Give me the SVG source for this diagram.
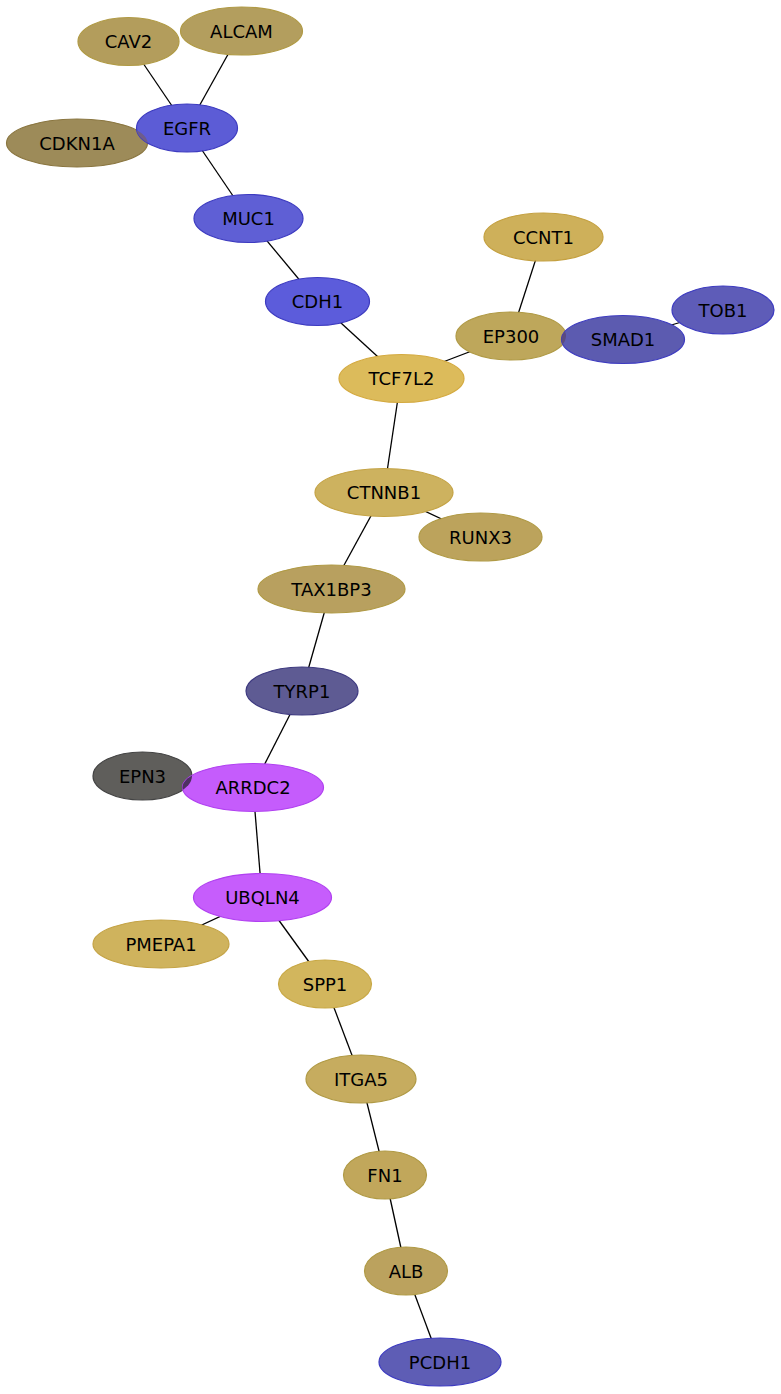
<svg xmlns="http://www.w3.org/2000/svg" width="781" height="1394" viewBox="0 0 781 1394">
<style>
.e{stroke:#000;stroke-width:1.3;fill:none}
.n ellipse{stroke-width:1.2}
.n text{font-family:"DejaVu Sans","Liberation Sans",sans-serif;font-size:18px;text-anchor:middle;fill:#000}
.g ellipse{stroke:#b09a45}
.b ellipse{stroke:#3d3bc0}
.ov{stroke:none !important}
</style>
<defs>
<clipPath id="cCDKN1A"><ellipse cx="77" cy="143" rx="70.5" ry="24"/></clipPath>
<clipPath id="cEP300"><ellipse cx="511" cy="336" rx="55" ry="24"/></clipPath>
<clipPath id="cEPN3"><ellipse cx="142.5" cy="776" rx="49.5" ry="24"/></clipPath>
</defs>
<rect width="781" height="1394" fill="#fff"/>
<g id="connectors">
<line class="e" x1="128" y1="41" x2="187" y2="128"/>
<line class="e" x1="241" y1="31" x2="187" y2="128"/>
<line class="e" x1="187" y1="128" x2="248" y2="218"/>
<line class="e" x1="248" y1="218" x2="317" y2="301"/>
<line class="e" x1="317" y1="301" x2="401" y2="378"/>
<line class="e" x1="401" y1="378" x2="511" y2="336"/>
<line class="e" x1="511" y1="336" x2="543" y2="237"/>
<line class="e" x1="623" y1="339" x2="723" y2="310"/>
<line class="e" x1="401" y1="378" x2="384" y2="492"/>
<line class="e" x1="384" y1="492" x2="480" y2="537"/>
<line class="e" x1="384" y1="492" x2="331" y2="589"/>
<line class="e" x1="331" y1="589" x2="302" y2="691"/>
<line class="e" x1="302" y1="691" x2="253" y2="787"/>
<line class="e" x1="253" y1="787" x2="262" y2="897"/>
<line class="e" x1="262" y1="897" x2="161" y2="944"/>
<line class="e" x1="262" y1="897" x2="325" y2="984"/>
<line class="e" x1="325" y1="984" x2="361" y2="1079"/>
<line class="e" x1="361" y1="1079" x2="385" y2="1175"/>
<line class="e" x1="385" y1="1175" x2="406" y2="1271"/>
<line class="e" x1="406" y1="1271" x2="440" y2="1362"/>
</g>
<g id="CAV2" class="n g"><ellipse cx="128.5" cy="41.5" rx="50.5" ry="24" fill="#b39d5c"/><text x="128.5" y="48">CAV2</text></g>
<g id="ALCAM" class="n g"><ellipse cx="241.5" cy="31" rx="61" ry="24" fill="#b39e5e"/><text x="241.5" y="37.5">ALCAM</text></g>
<g id="CDKN1A" class="n g"><ellipse cx="77" cy="143" rx="70.5" ry="24" fill="#9d8b59" style="stroke:#8a7640"/><text x="77" y="149.5">CDKN1A</text></g>
<g id="EGFR" class="n b"><ellipse cx="187" cy="128" rx="50.5" ry="24" fill="#5c5cd6"/><ellipse class="ov" cx="187" cy="128" rx="50.5" ry="24" fill="#6e5c8a" clip-path="url(#cCDKN1A)"/><text x="187" y="134.5">EGFR</text></g>
<g id="MUC1" class="n b"><ellipse cx="248.5" cy="218.5" rx="54.5" ry="24" fill="#5f5fd5"/><text x="248.5" y="225">MUC1</text></g>
<g id="CDH1" class="n b"><ellipse cx="317.5" cy="301.5" rx="52" ry="24" fill="#5c5cdb"/><text x="317.5" y="308">CDH1</text></g>
<g id="CCNT1" class="n g"><ellipse cx="543.5" cy="237" rx="59.5" ry="24" fill="#ceb05a" style="stroke:#c4a040"/><text x="543.5" y="243.5">CCNT1</text></g>
<g id="EP300" class="n g"><ellipse cx="511" cy="336" rx="55" ry="24" fill="#bea75b"/><text x="511" y="342.5">EP300</text></g>
<g id="TOB1" class="n b"><ellipse cx="723" cy="310" rx="51" ry="24" fill="#5e5cb8"/><text x="723" y="316.5">TOB1</text></g>
<g id="SMAD1" class="n b"><ellipse cx="623" cy="339.5" rx="61.5" ry="24" fill="#5c5bb0"/><ellipse class="ov" cx="623" cy="339.5" rx="61.5" ry="24" fill="#5a4a80" clip-path="url(#cEP300)"/><text x="623" y="346">SMAD1</text></g>
<g id="TCF7L2" class="n g"><ellipse cx="401.5" cy="378.5" rx="62.5" ry="24" fill="#dcbb5b" style="stroke:#d4aa40"/><text x="401.5" y="385">TCF7L2</text></g>
<g id="CTNNB1" class="n g"><ellipse cx="384" cy="492.5" rx="69" ry="24" fill="#cdb25f" style="stroke:#c4a345"/><text x="384" y="499">CTNNB1</text></g>
<g id="RUNX3" class="n g"><ellipse cx="480.5" cy="537" rx="61.5" ry="24" fill="#bca35c"/><text x="480.5" y="543.5">RUNX3</text></g>
<g id="TAX1BP3" class="n g"><ellipse cx="331.5" cy="589" rx="73.5" ry="24" fill="#b8a05f"/><text x="331.5" y="595.5">TAX1BP3</text></g>
<g id="TYRP1" class="n"><ellipse cx="302" cy="691" rx="56" ry="24" fill="#5e5b93" stroke="#3e3a80"/><text x="302" y="697.5">TYRP1</text></g>
<g id="EPN3" class="n"><ellipse cx="142.5" cy="776" rx="49.5" ry="24" fill="#5f5e5b" stroke="#444"/><text x="142.5" y="782.5">EPN3</text></g>
<g id="ARRDC2" class="n"><ellipse cx="253" cy="787.5" rx="70.5" ry="24" fill="#c55cfc" stroke="#b040f0"/><ellipse class="ov" cx="253" cy="787.5" rx="70.5" ry="24" fill="#4e3062" clip-path="url(#cEPN3)"/><text x="253" y="794">ARRDC2</text></g>
<g id="UBQLN4" class="n"><ellipse cx="262.5" cy="897.5" rx="69" ry="24" fill="#c65dfc" stroke="#b040f0"/><text x="262.5" y="904">UBQLN4</text></g>
<g id="PMEPA1" class="n g"><ellipse cx="161" cy="944" rx="68" ry="24" fill="#cfb35d" style="stroke:#c4a345"/><text x="161" y="950.5">PMEPA1</text></g>
<g id="SPP1" class="n g"><ellipse cx="325" cy="984" rx="46.5" ry="24" fill="#d2b65d" style="stroke:#c8a845"/><text x="325" y="990.5">SPP1</text></g>
<g id="ITGA5" class="n g"><ellipse cx="361" cy="1079" rx="55" ry="24" fill="#c6ac5f"/><text x="361" y="1085.5">ITGA5</text></g>
<g id="FN1" class="n g"><ellipse cx="385" cy="1175" rx="41.5" ry="24" fill="#c1a75b"/><text x="385" y="1181.5">FN1</text></g>
<g id="ALB" class="n g"><ellipse cx="406" cy="1271" rx="41.5" ry="24" fill="#bba25e"/><text x="406" y="1277.5">ALB</text></g>
<g id="PCDH1" class="n b"><ellipse cx="440" cy="1362" rx="61" ry="24" fill="#5e5db5"/><text x="440" y="1368.5">PCDH1</text></g>
</svg>
